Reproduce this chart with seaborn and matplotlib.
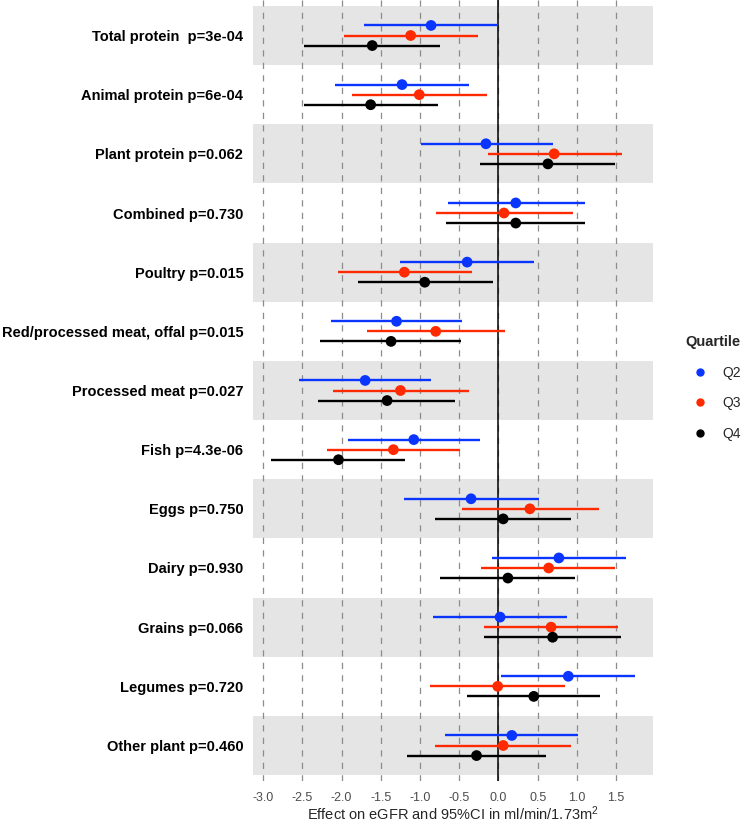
import numpy as np
import pandas as pd
import seaborn as sns
import matplotlib.pyplot as plt
from matplotlib.lines import Line2D

# Food groups (top to bottom) with their trend p-values
labels = ["Total protein  p=3e-04", "Animal protein p=6e-04", "Plant protein p=0.062",
          "Combined p=0.730", "Poultry p=0.015", "Red/processed meat, offal p=0.015",
          "Processed meat p=0.027", "Fish p=4.3e-06", "Eggs p=0.750", "Dairy p=0.930",
          "Grains p=0.066", "Legumes p=0.720", "Other plant p=0.460"]

quartiles = ["Q2", "Q3", "Q4"]

# estimates and 95% CI
q2_est = [-0.86, -1.23, -0.16, 0.22, -0.40, -1.30, -1.70, -1.08, -0.35, 0.77, 0.02, 0.89, 0.17]
q2_lo = [-1.71, -2.08, -0.99, -0.65, -1.26, -2.14, -2.54, -1.92, -1.21, -0.08, -0.83, 0.03, -0.68]
q2_hi = [0.00, -0.38, 0.69, 1.10, 0.45, -0.46, -0.86, -0.23, 0.52, 1.62, 0.87, 1.74, 1.02]

q3_est = [-1.12, -1.01, 0.71, 0.07, -1.20, -0.80, -1.25, -1.34, 0.40, 0.64, 0.67, -0.01, 0.06]
q3_lo = [-1.97, -1.87, -0.14, -0.80, -2.04, -1.68, -2.11, -2.19, -0.46, -0.22, -0.18, -0.87, -0.81]
q3_hi = [-0.26, -0.15, 1.57, 0.95, -0.34, 0.08, -0.38, -0.49, 1.28, 1.49, 1.52, 0.85, 0.92]

q4_est = [-1.61, -1.63, 0.63, 0.22, -0.94, -1.37, -1.42, -2.04, 0.06, 0.12, 0.69, 0.45, -0.28]
q4_lo = [-2.48, -2.48, -0.23, -0.67, -1.79, -2.27, -2.30, -2.90, -0.81, -0.74, -0.18, -0.40, -1.17]
q4_hi = [-0.74, -0.77, 1.49, 1.10, -0.07, -0.48, -0.55, -1.19, 0.92, 0.98, 1.56, 1.30, 0.61]

colors = {"Q2": "#0a35ff", "Q3": "#ff2a00", "Q4": "#000000"}
offsets = {"Q2": -0.17, "Q3": 0.0, "Q4": 0.17}

frames = []
for q, est, lo, hi in [("Q2", q2_est, q2_lo, q2_hi), ("Q3", q3_est, q3_lo, q3_hi),
                       ("Q4", q4_est, q4_lo, q4_hi)]:
    d = pd.DataFrame({"label": labels, "est": est, "lo": lo, "hi": hi})
    d["quartile"] = q
    d["row"] = np.arange(len(labels))
    d["y"] = d["row"] + offsets[q]
    frames.append(d)
df = pd.concat(frames, ignore_index=True)

sns.set_style("white")
plt.rcParams["font.family"] = ["Liberation Sans", "DejaVu Sans"]
plt.rcParams["mathtext.fontset"] = "custom"
plt.rcParams["mathtext.rm"] = "Liberation Sans"
plt.rcParams["mathtext.default"] = "regular"

fig = plt.figure(figsize=(7.45, 8.25), dpi=100)
ax = fig.add_axes([253 / 745, 1 - 781 / 825, 400 / 745, 781 / 825])

# alternating grey bands
for i in range(0, len(labels), 2):
    ax.axhspan(i - 0.5, i + 0.5, color="#e5e5e5", lw=0, zorder=0)

xticks = np.arange(-3.0, 1.51, 0.5)
for xt in xticks:
    ax.axvline(xt, color="#8c8c8c", lw=0.9, ls=(0, (5, 5)), zorder=1)
ax.axvline(0, color="black", lw=1.1, zorder=2)

for q in quartiles:
    d = df[df["quartile"] == q]
    ax.hlines(d["y"], d["lo"], d["hi"], color=colors[q], lw=1.7, zorder=3)

sns.scatterplot(data=df, x="est", y="y", hue="quartile", palette=colors, s=60,
                edgecolor="none", legend=False, ax=ax, zorder=4)

ax.set_xlim(-3.13, 1.97)
ax.set_ylim(12.6, -0.6)
ax.set_xticks(xticks)
ax.set_xticklabels([f"{v:.1f}" for v in xticks], fontsize=9, color="#4d4d4d")
ax.set_yticks(range(len(labels)))
ax.set_yticklabels(labels, fontsize=10.5, fontweight="bold", color="black")
ax.tick_params(axis="both", length=0)
ax.tick_params(axis="y", pad=7)
ax.tick_params(axis="x", pad=8)
ax.set_ylabel("")
ax.set_xlabel("Effect on eGFR and 95%CI in ml/min/1.73m$^2$", fontsize=10.5, labelpad=0)
for s in ax.spines.values():
    s.set_visible(False)

handles = [Line2D([], [], marker="o", ls="", color=colors[q], markersize=5) for q in quartiles]
leg = ax.legend(handles, quartiles, title="Quartile", loc="upper left",
                bbox_to_anchor=(678 / 745, 1 - 328 / 825), bbox_transform=fig.transFigure,
                frameon=False, borderpad=0, fontsize=10, title_fontsize=10.5,
                labelspacing=1.2, handlelength=2.2, handletextpad=0.5, alignment="left")
leg.get_title().set_fontweight("bold")

fig.savefig("out.png", dpi=100)
